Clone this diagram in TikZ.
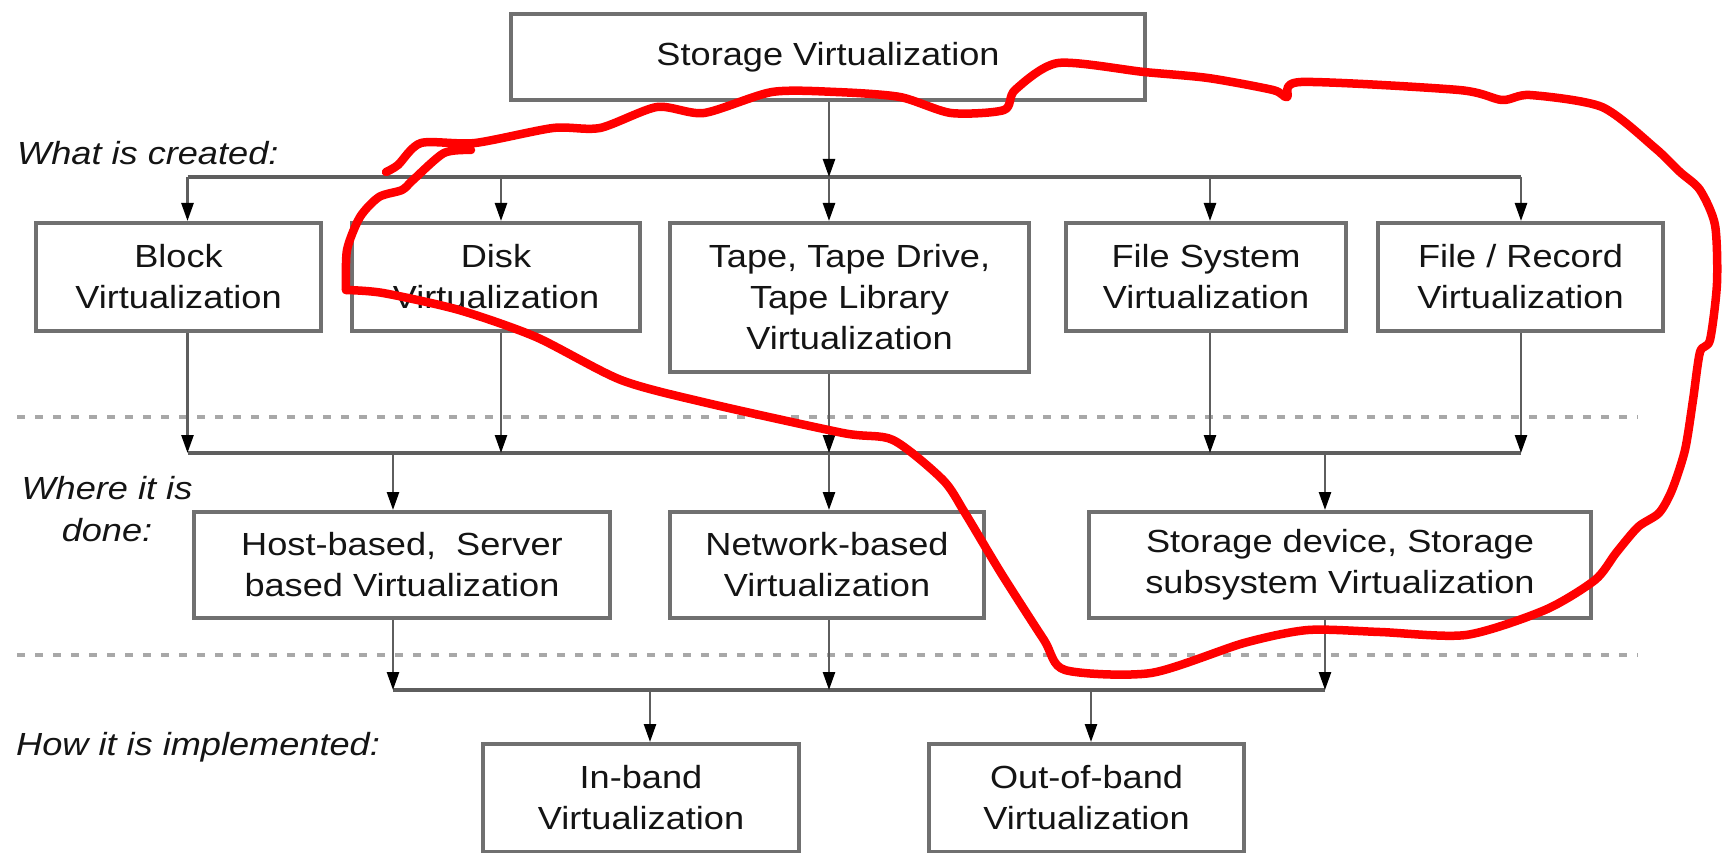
\documentclass[tikz,border=0pt]{standalone}
\usepackage{fontspec}
\setmainfont{Liberation Sans}[FakeStretch=1.13]
\usetikzlibrary{arrows.meta}

\definecolor{boxgray}{HTML}{707070}
\definecolor{linkgray}{HTML}{5E5E5E}
\definecolor{dashgray}{HTML}{A8A8A8}
\definecolor{ink}{HTML}{141414}
\definecolor{pen}{HTML}{FF0000}

\tikzset{
  cell/.style={draw=boxgray, line width=4pt, fill=white, inner sep=0pt,
    align=center, text=ink, font=\fontsize{32}{41}\selectfont},
  tag/.style={inner sep=0pt, align=center, text=ink,
    font=\fontsize{32}{42}\selectfont\itshape},
  link/.style={draw=linkgray, line width=2.5pt},
  bus/.style={draw=linkgray, line width=4pt},
  arr/.style={link, -{Triangle[length=18pt, width=12pt, color=black]}},
  sep/.style={draw=dashgray, line width=3.5pt, dash pattern=on 8pt off 10pt},
  scrawl/.style={draw=pen, line width=8.5pt, line cap=round, line join=round},
}

\begin{document}
\begin{tikzpicture}[x=1pt, y=-1pt]
  \useasboundingbox (0,0) rectangle (1722,853);

  % layer labels
  \path
    (17,165) node[tag, anchor=base west] (what){What is created:}
    (107,509.5) node[tag] (where){Where it is\\done:}
    (16,755) node[tag, anchor=base west] (how){How it is implemented:};

  % separators
  \coordinate (s1w) at (17,417);
  \coordinate (s1e) at (1638,417);
  \coordinate (s2w) at (17,655);
  \coordinate (s2e) at (1638,655);
  \draw[sep] (s1w) -- (s1e);
  \draw[sep] (s2w) -- (s2e);

  % boxes
  \path
    (828,57) node[cell, minimum width=634pt, minimum height=86pt] (store){Storage Virtualization}
    (178.5,277) node[cell, minimum width=285pt, minimum height=108pt] (block){Block\\Virtualization}
    (496,277) node[cell, minimum width=288pt, minimum height=108pt] (disk){Disk\\Virtualization}
    (849.5,297.5) node[cell, minimum width=359pt, minimum height=149pt] (tape){Tape, Tape Drive,\\Tape Library\\Virtualization}
    (1206,277) node[cell, minimum width=280pt, minimum height=108pt] (fsys){File System\\Virtualization}
    (1520.5,277) node[cell, minimum width=285pt, minimum height=108pt] (frec){File / Record\\Virtualization}
    (402,565) node[cell, minimum width=416pt, minimum height=106pt] (host){Host-based,~~Server\\based Virtualization}
    (827,565) node[cell, minimum width=314pt, minimum height=106pt] (net){Network-based\\Virtualization}
    (1340,565) node[cell, minimum width=502pt, minimum height=106pt] (dev){Storage device, Storage\\subsystem Virtualization}
    (641,798) node[cell, minimum width=316pt, minimum height=108pt] (inb){In-band\\Virtualization}
    (1086.5,798) node[cell, minimum width=315pt, minimum height=108pt] (outb){Out-of-band\\Virtualization};

  % bus points
  \coordinate (a1) at (187.5,177);
  \coordinate (a2) at (501,177);
  \coordinate (a3) at (829,177);
  \coordinate (a4) at (1210,177);
  \coordinate (a5) at (1521,177);
  \coordinate (b1) at (187.5,453);
  \coordinate (b2) at (501,453);
  \coordinate (b3) at (829,453);
  \coordinate (b4) at (1210,453);
  \coordinate (b5) at (1521,453);
  \coordinate (h1) at (393,453);
  \coordinate (h3) at (1325,453);
  \coordinate (c1) at (393,690);
  \coordinate (c2) at (829,690);
  \coordinate (c3) at (1325,690);
  \coordinate (d1) at (650,690);
  \coordinate (d2) at (1091,690);

  \begin{scope}
    \draw[bus] (a1) -- (a5);
    \draw[bus] (b1) -- (b5);
    \draw[bus] (c1) -- (c3);
    \draw[arr] (store.south -| a3) -- (a3);
    \draw[arr] (a1) -- (block.north -| a1);
    \draw[arr] (a2) -- (disk.north -| a2);
    \draw[arr] (a3) -- (tape.north -| a3);
    \draw[arr] (a4) -- (fsys.north -| a4);
    \draw[arr] (a5) -- (frec.north -| a5);
    \draw[arr] (block.south -| b1) -- (b1);
    \draw[arr] (disk.south -| b2) -- (b2);
    \draw[arr] (tape.south -| b3) -- (b3);
    \draw[arr] (fsys.south -| b4) -- (b4);
    \draw[arr] (frec.south -| b5) -- (b5);
    \draw[arr] (h1) -- (host.north -| h1);
    \draw[arr] (b3) -- (net.north -| b3);
    \draw[arr] (h3) -- (dev.north -| h3);
    \draw[arr] (host.south -| c1) -- (c1);
    \draw[arr] (net.south -| c2) -- (c2);
    \draw[arr] (dev.south -| c3) -- (c3);
    \draw[arr] (d1) -- (inb.north -| d1);
    \draw[arr] (d2) -- (outb.north -| d2);
  \end{scope}

  % hand-drawn loop
  \draw[scrawl]
    plot[smooth, tension=0.45] coordinates {
      (386,172) (398,165) (421,143) (475,143) (553,128) (600,128)
      (657,107) (704,113) (772,92) (836,92) (900,97) (951,113)
      (1004,110) (1015,90) (1058,63) (1144,72) (1208,78) (1273,90)
      (1287,97) (1301,82) (1459,90) (1502,100) (1530,95) (1602,107)
      (1655,148) (1680,172) (1700,190) (1715,225) (1717,283) (1710,340)
      (1700,352) (1693,400) (1685,450) (1672,490) (1659,513) (1638,527)
      (1616,553) (1595,580) (1545,610) (1466,635) (1380,632) (1308,630)
      (1244,643) (1151,673) (1065,670) (1044,640) (1001,573) (965,513)
      (943,480) (893,440) (843,433) (707,403) (621,380) (536,337)
      (459,310) (383,293) (346,290)};
  \draw[scrawl]
    plot[smooth, tension=0.45] coordinates {
      (346,290) (347,250) (360,217) (379,197) (402,190) (413,180)
      (444,153) (471,150)};
\end{tikzpicture}
\end{document}
